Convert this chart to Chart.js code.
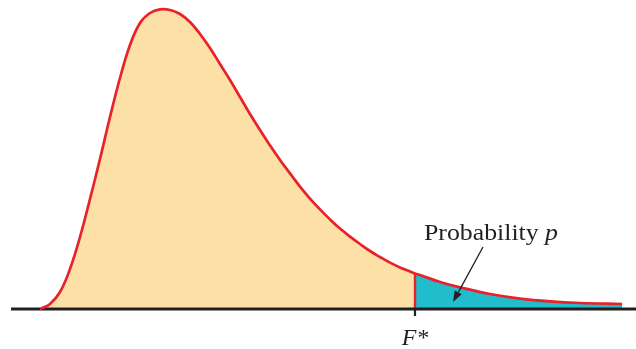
<!DOCTYPE html>
<html>
<head>
<meta charset="utf-8">
<script src="https://cdn.jsdelivr.net/npm/chart.js@4.4.1/dist/chart.umd.min.js"></script>
<style>
  html, body { margin: 0; padding: 0; background: #ffffff; }
  #wrap { width: 636px; height: 349px; position: relative; }
</style>
</head>
<body>
<div id="wrap"><canvas id="c"></canvas></div>
<script>
// ---- Data ----
const fValues = [0.0, 0.1, 0.2, 0.3, 0.4, 0.5, 0.6, 0.7, 0.8, 0.9,
                 1.0, 1.1, 1.2, 1.3, 1.4, 1.5, 1.6, 1.7, 1.8, 1.9,
                 2.0, 2.1, 2.2, 2.3, 2.4, 2.5, 2.6, 2.7, 2.8, 2.9,
                 3.0, 3.1, 3.2, 3.3, 3.4, 3.5, 3.6, 3.7, 3.75, 3.8,
                 4.0, 4.2, 4.5, 4.8, 5.1, 5.4, 5.82];
const density = [0.000, 0.0125, 0.0425, 0.100, 0.180, 0.275, 0.375, 0.480, 0.5775, 0.660,
                 0.715, 0.740, 0.749, 0.7475, 0.7375, 0.7175, 0.6875, 0.6525, 0.6125, 0.5725,
                 0.530, 0.4875, 0.4475, 0.409, 0.3725, 0.339, 0.306, 0.276, 0.249, 0.224,
                 0.201, 0.181, 0.1625, 0.145, 0.130, 0.116, 0.104, 0.094, 0.089, 0.085,
                 0.0675, 0.054, 0.0375, 0.026, 0.019, 0.015, 0.0125];
const fStar = 3.75;
const axisRange = [-0.29, 5.96];
const densityMax = 0.7725;
const labelText = 'Probability ';
const labelVar = 'p';
const fStarLabel = 'F*';

// ---- Derived series ----
const curve = fValues.map((f, i) => ({ x: f, y: density[i] }));
const rightPart = curve.filter(p => p.x >= fStar);
const fStarY = density[fValues.indexOf(fStar)];

const annotate = {
  id: 'annotate',
  afterDatasetsDraw(chart) {
    const ctx = chart.ctx;
    const xs = chart.scales.x, ys = chart.scales.y;
    ctx.save();
    // "Probability p" label
    const tx = xs.getPixelForValue(3.84), ty = ys.getPixelForValue(0.1725);
    ctx.fillStyle = '#231f20';
    ctx.textBaseline = 'alphabetic';
    ctx.textAlign = 'left';
    const f1 = '23px "Liberation Serif", "DejaVu Serif", serif';
    const f2 = 'italic 23px "Liberation Serif", "DejaVu Serif", serif';
    ctx.font = f1; const w1 = ctx.measureText(labelText).width;
    ctx.font = f2; const w2 = ctx.measureText(labelVar).width;
    const sx = 134 / (w1 + w2);
    ctx.save();
    ctx.translate(tx, ty);
    ctx.scale(sx, 1);
    ctx.font = f1; ctx.fillText(labelText, 0, 0);
    ctx.font = f2; ctx.fillText(labelVar, w1, 0);
    ctx.restore();

    // Arrow
    const ax0 = xs.getPixelForValue(4.43), ay0 = ys.getPixelForValue(0.155);
    const ax1 = xs.getPixelForValue(4.13), ay1 = ys.getPixelForValue(0.0175);
    const ang = Math.atan2(ay1 - ay0, ax1 - ax0);
    const hl = 11, hw = 4;
    const bx = ax1 - hl * Math.cos(ang), by = ay1 - hl * Math.sin(ang);
    ctx.strokeStyle = '#231f20';
    ctx.lineWidth = 1.3;
    ctx.beginPath(); ctx.moveTo(ax0, ay0); ctx.lineTo(bx, by); ctx.stroke();
    ctx.beginPath();
    ctx.moveTo(ax1, ay1);
    ctx.lineTo(bx + hw * Math.sin(ang), by - hw * Math.cos(ang));
    ctx.lineTo(bx - hw * Math.sin(ang), by + hw * Math.cos(ang));
    ctx.closePath(); ctx.fill();

    // F* label
    const fx = xs.getPixelForValue(fStar), fy = ys.getPixelForValue(0) + 36;
    ctx.font = 'italic 24px "Liberation Serif", "DejaVu Serif", serif';
    ctx.textAlign = 'center';
    ctx.fillText(fStarLabel, fx, fy);
    ctx.restore();
  }
};

new Chart(document.getElementById('c'), {
  type: 'line',
  data: {
    datasets: [
      { // red curve (top)
        data: curve, borderColor: '#e8212b', borderWidth: 2.7, pointRadius: 0,
        fill: false, tension: 0.4, order: 0, clip: false
      },
      { // baseline
        data: [{ x: axisRange[0], y: 0 }, { x: axisRange[1], y: 0 }],
        borderColor: '#231f20', borderWidth: 2.8, pointRadius: 0, fill: false, order: 1, clip: false
      },
      { // tick at F*
        data: [{ x: fStar, y: 0 }, { x: fStar, y: -0.0175 }],
        borderColor: '#231f20', borderWidth: 2.2, pointRadius: 0, fill: false, order: 2, clip: false
      },
      { // red vertical at F*
        data: [{ x: fStar, y: 0 }, { x: fStar, y: fStarY }],
        borderColor: '#e8212b', borderWidth: 2.4, pointRadius: 0, fill: false, order: 3, clip: false
      },
      { // teal tail area
        data: rightPart, borderWidth: 0, borderColor: 'rgba(0,0,0,0)', pointRadius: 0,
        backgroundColor: '#21bdcd', fill: 'origin', tension: 0.4, order: 4
      },
      { // orange area (whole curve, tail covered by teal)
        data: curve, borderWidth: 0, borderColor: 'rgba(0,0,0,0)', pointRadius: 0,
        backgroundColor: '#fde0a6', fill: 'origin', tension: 0.4, order: 5
      }
    ]
  },
  options: {
    responsive: true,
    maintainAspectRatio: false,
    animation: false,
    layout: { padding: { left: 11, right: 0, top: 0, bottom: 40 } },
    plugins: { legend: { display: false }, tooltip: { enabled: false } },
    scales: {
      x: { type: 'linear', min: axisRange[0], max: axisRange[1], display: false },
      y: { type: 'linear', min: 0, max: densityMax, display: false }
    }
  },
  plugins: [annotate]
});
</script>
</body>
</html>
